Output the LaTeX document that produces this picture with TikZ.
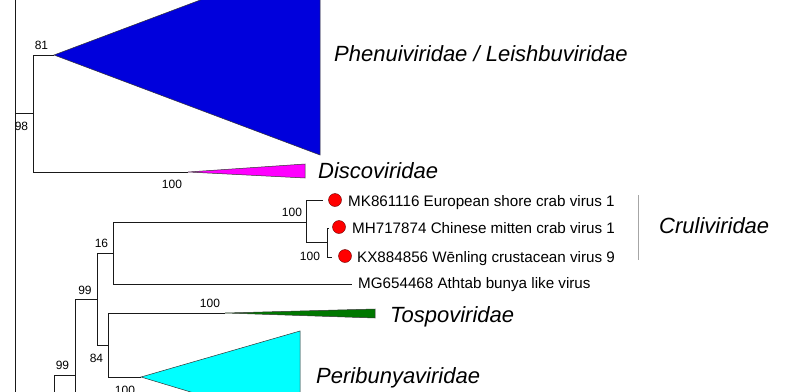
\documentclass[tikz,border=0pt]{standalone}
\usepackage{fontspec}
\setmainfont{Liberation Sans}
\definecolor{cladeblue}{RGB}{0,0,220}
\definecolor{cladegreen}{RGB}{0,120,0}
\definecolor{clademagenta}{RGB}{255,0,255}
\definecolor{cladecyan}{RGB}{0,255,255}
\definecolor{dotred}{RGB}{255,0,0}
\begin{document}
\begin{tikzpicture}[x=1pt,y=-1pt,
  br/.style={draw=black!90, line width=0.8pt},
  num/.style={font=\fontsize{12}{12}\selectfont, inner sep=0pt},
  taxon/.style={font=\fontsize{15.2}{15.2}\selectfont, inner sep=0pt, anchor=base west},
  fam/.style={font=\fontsize{22}{22}\selectfont\itshape, inner sep=0pt, anchor=base west},
  clade/.style={draw=black!80, line width=0.5pt},
  reddot/.style={circle, fill=dotred, draw=red!40!black, line width=0.4pt, minimum size=13pt, inner sep=0pt}]
\useasboundingbox (0,0) rectangle (800,391);
\begin{scope}
\clip (0,0) rectangle (800,391);
% junction coordinates
\coordinate (rtop) at (15,-10);
\coordinate (rbot) at (15,400);
\coordinate (r98) at (15,113);
\coordinate (n98) at (33,113);
\coordinate (n98t) at (33,55);
\coordinate (n98b) at (33,172);
\coordinate (phen) at (54,55);
\coordinate (disc) at (188,172);
\coordinate (b99) at (54,375);
\coordinate (b99end) at (54,400);
\coordinate (a99) at (75,375);
\coordinate (a99t) at (75,299);
\coordinate (a99end) at (75,400);
\coordinate (c99) at (97,299);
\coordinate (c99t) at (97,253);
\coordinate (c99b) at (97,345);
\coordinate (n16) at (113,253);
\coordinate (n16t) at (113,222);
\coordinate (n16b) at (113,284);
\coordinate (ncru) at (306,222);
\coordinate (ncrut) at (306,200);
\coordinate (ncrub) at (306,242);
\coordinate (mkend) at (323,200);
\coordinate (nkx) at (327,242);
\coordinate (nkxt) at (327,228);
\coordinate (nkxb) at (327,257);
\coordinate (mhend) at (329,228);
\coordinate (kxend) at (332,257);
\coordinate (mgend) at (352,284);
\coordinate (n84) at (108,345);
\coordinate (n84t) at (108,313);
\coordinate (n84b) at (108,377);
\coordinate (tosp) at (225,313);
\coordinate (peri) at (141,377);
% collapsed clades
\filldraw[clade, fill=cladeblue] (phen) -- (320,-45) -- (320,155) -- cycle;
\filldraw[clade, fill=clademagenta] (disc) -- (305,164) -- (305,178) -- cycle;
\filldraw[clade, fill=cladegreen] (tosp) -- (375,309) -- (375,318) -- cycle;
\filldraw[clade, fill=cladecyan] (peri) -- (300,331) -- (300,425) -- cycle;
% branches
\draw[br] (rtop) -- (rbot);
\draw[br] (r98) -- (n98);
\draw[br] (n98t) -- (n98b);
\draw[br] (n98t) -- (phen);
\draw[br] (n98b) -- (disc);
\draw[br] (b99) -- (b99end);
\draw[br] (b99) -- (a99);
\draw[br] (a99t) -- (a99end);
\draw[br] (a99t) -- (c99);
\draw[br] (c99t) -- (c99b);
\draw[br] (c99t) -- (n16);
\draw[br] (n16t) -- (n16b);
\draw[br] (n16t) -- (ncru);
\draw[br] (n16b) -- (mgend);
\draw[br] (ncrut) -- (ncrub);
\draw[br] (ncrut) -- (mkend);
\draw[br] (ncrub) -- (nkx);
\draw[br] (nkxt) -- (nkxb);
\draw[br] (nkxt) -- (mhend);
\draw[br] (nkxb) -- (kxend);
\draw[br] (c99b) -- (n84);
\draw[br] (n84t) -- (n84b);
\draw[br] (n84t) -- (tosp);
\draw[br] (n84b) -- (peri);
% support value cut by the lower edge, as in the reference
\node[num] (s100p) at (125,390) {100};
\end{scope}
% support values
\node[num] (s81) at (41.5,45) {81};
\node[num] (s98) at (21.5,126) {98};
\node[num] (s100d) at (172,184) {100};
\node[num] (s16) at (101.5,243) {16};
\node[num] (s99a) at (85,290) {99};
\node[num] (s84) at (96.5,358) {84};
\node[num] (s100t) at (210,303) {100};
\node[num] (s99b) at (62.5,365) {99};
\node[num] (s100c) at (292,212) {100};
\node[num] (s100k) at (310,256) {100};
% tips
\node[reddot] (dmk) at (335,200) {};
\node[reddot] (dmh) at (339,227) {};
\node[reddot] (dkx) at (345,256) {};
\node[taxon] (tmk) at (348,206) {MK861116 European shore crab virus 1};
\node[taxon] (tmh) at (352,233) {MH717874 Chinese mitten crab virus 1};
\node[taxon] (tkx) at (357,262) {KX884856 Wēnling crustacean virus 9};
\node[taxon] (tmg) at (358,288) {MG654468 Athtab bunya like virus};
% family labels
\node[fam] (fphen) at (334,61) {Phenuiviridae / Leishbuviridae};
\node[fam] (fdisc) at (318,178) {Discoviridae};
\node[fam] (ftosp) at (390,322) {Tospoviridae};
\node[fam] (fperi) at (316,383) {Peribunyaviridae};
\node[fam] (fcrul) at (659,233) {Cruliviridae};
\coordinate (cbt) at (638,195);
\coordinate (cbb) at (638,260);
\draw[draw=gray!70, line width=1pt] (cbt) -- (cbb);
\end{tikzpicture}
\end{document}
